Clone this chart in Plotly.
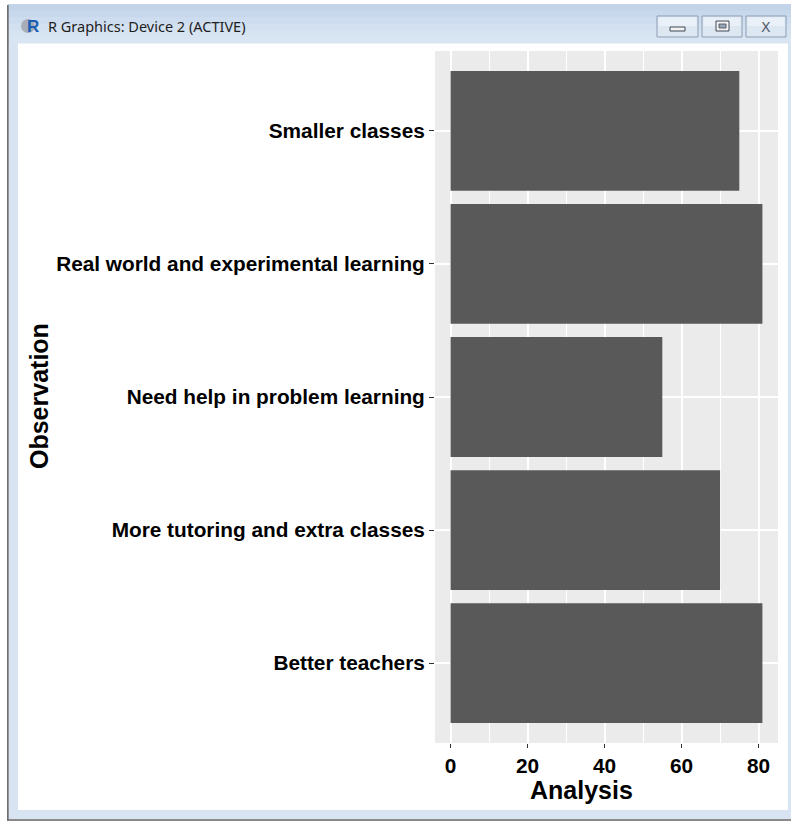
import plotly.graph_objects as go

# ---- data ----
categories = [
    "Better teachers",
    "More tutoring and extra classes",
    "Need help in problem learning",
    "Real world and experimental learning",
    "Smaller classes",
]
values = [81, 70, 55, 81, 75]
x_ticks = [0, 20, 40, 60, 80]
x_minor = [10, 30, 50, 70]
x_title = "Analysis"
y_title = "Observation"
window_title = "R Graphics: Device 2 (ACTIVE)"

W, H = 791, 821


def px(x):
    return x / W


def py(y):
    return 1 - y / H


BOLD = dict(family="Liberation Sans, Arial, sans-serif", color="black", weight="bold")

fig = go.Figure(
    go.Bar(
        x=values,
        y=categories,
        orientation="h",
        marker=dict(color="#595959", line=dict(width=0)),
        hoverinfo="x+y",
    )
)

fig.update_layout(
    width=W,
    height=H,
    margin=dict(l=0, r=0, t=0, b=0),
    paper_bgcolor="white",
    plot_bgcolor="#EBEBEB",
    bargap=0.1,
    showlegend=False,
    xaxis=dict(
        domain=[px(435), px(778)],
        range=[-4.05, 85.05],
        tickvals=x_ticks,
        ticktext=[str(v) for v in x_ticks],
        ticks="outside",
        ticklen=4,
        tickwidth=1.1,
        tickcolor="#333333",
        tickfont=dict(size=20.8, **BOLD),
        showgrid=True,
        gridcolor="white",
        gridwidth=1.5,
        minor=dict(tickvals=x_minor, showgrid=True, gridcolor="white", gridwidth=0.7),
        zeroline=False,
        showline=False,
        fixedrange=True,
    ),
    yaxis=dict(
        domain=[py(743), py(51)],
        type="category",
        categoryorder="array",
        categoryarray=categories,
        range=[-0.6, len(categories) - 0.4],
        ticks="outside",
        ticklen=5,
        tickwidth=1.1,
        tickcolor="#333333",
        tickfont=dict(size=20.8, **BOLD),
        showgrid=True,
        gridcolor="white",
        gridwidth=1.5,
        zeroline=False,
        showline=False,
        fixedrange=True,
    ),
)

shapes = []


def rect(x0, y0, x1, y1, fill, line=None, lw=0):
    shapes.append(dict(
        type="rect", xref="paper", yref="paper",
        x0=px(x0), x1=px(x1), y0=py(y1), y1=py(y0),
        fillcolor=fill,
        line=dict(width=lw, color=line or fill),
        layer="above",
    ))


# title bar gradient bands
bands = ["#c3d4e9", "#c8d8ec", "#cddcee", "#d2e0f0", "#d6e3f1", "#d9e5f2"]
top = 4
step = (43 - top) / len(bands)
for i, c in enumerate(bands):
    rect(8, top + i * step, W, top + (i + 1) * step + 0.5, c)
# left frame
rect(8.5, 42, 18, 819, "#d8e4f1")
# right frame
rect(788, 42, W, 819, "#d8e4f1")
# bottom frame
rect(8, 810, W, 819, "#d8e4f1")
rect(7, 819, W, H, "#8a8a8a")
# left dark border
rect(7, 5, 8.7, H, "#6e6e6e")

# R logo
shapes.append(dict(type="circle", xref="paper", yref="paper",
                   x0=px(21), x1=px(35), y0=py(33), y1=py(19),
                   fillcolor="#a9adb8", line=dict(width=0), layer="above"))

# buttons
for (bx0, bx1) in [(657, 698), (702, 742), (746, 786)]:
    rect(bx0, 16, bx1, 37, "#dde7f2", "#8d9db4", 1)
    rect(bx0 + 1.5, 17.5, bx1 - 1.5, 26, "#e9f0f7")
# minimize icon
rect(670, 27, 685, 31, "#f2f2f2", "#404a58", 1)
# maximize icon
rect(716, 21, 729, 31, "#f2f2f2", "#404a58", 1)
rect(719, 24, 726, 28, "#9aa6b6", "#404a58", 0.8)

fig.update_layout(shapes=shapes)

annotations = [
    dict(text=x_title, x=px(581), y=py(790), xref="paper", yref="paper",
         showarrow=False, font=dict(size=25, **BOLD), xanchor="center", yanchor="middle"),
    dict(text=y_title, x=px(39), y=py(396), xref="paper", yref="paper",
         showarrow=False, textangle=-90, font=dict(size=25, **BOLD),
         xanchor="center", yanchor="middle"),
    dict(text=window_title, x=px(46), y=py(26), xref="paper", yref="paper",
         showarrow=False, xanchor="left", yanchor="middle",
         font=dict(size=14.5, family="Noto Sans, DejaVu Sans, sans-serif", color="#1e1e1e")),
    dict(text="R", x=px(33), y=py(26.5), xref="paper", yref="paper",
         showarrow=False, xanchor="center", yanchor="middle",
         font=dict(size=17, family="Liberation Sans, Arial, sans-serif", color="#1b5fb4", weight="bold")),
    dict(text="X", x=px(766), y=py(26.5), xref="paper", yref="paper",
         showarrow=False, xanchor="center", yanchor="middle",
         font=dict(size=14, family="DejaVu Sans, sans-serif", color="#56606e")),
]
fig.update_layout(annotations=annotations)

fig.write_html(
    "out.html",
    config={"displayModeBar": False},
    post_script="document.body.style.margin='0';document.body.style.overflow='hidden';",
)
